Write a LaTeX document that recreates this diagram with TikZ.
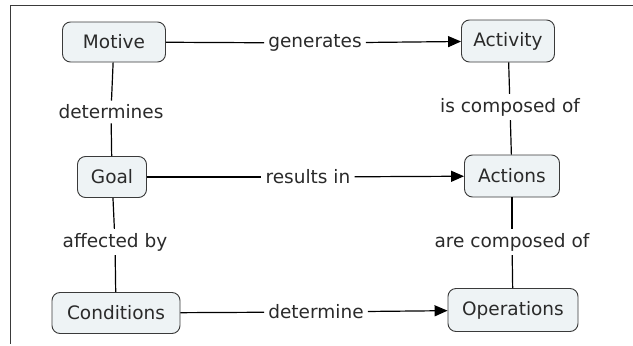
\documentclass[tikz,border=0pt]{standalone}
\usepackage{fontspec}
\setmainfont{DejaVu Sans}
\usetikzlibrary{arrows.meta}
\definecolor{boxfill}{HTML}{EEF3F5}
\definecolor{boxline}{HTML}{3A3A3A}
\definecolor{txt}{HTML}{2A2A2A}
\tikzset{
  concept/.style={draw=boxline, line width=0.9pt, fill=boxfill, rounded corners=8pt,
    inner sep=0pt, text=txt, font=\fontsize{18.5}{20}\selectfont},
  linkword/.style={inner sep=4pt, text=txt, font=\fontsize{18.5}{20}\selectfont},
  link/.style={draw=black, line width=1.2pt},
  linkarrow/.style={link, -{Triangle[length=13pt,width=11pt]}},
}
\begin{document}
\begin{tikzpicture}[x=1pt,y=-1pt]
\useasboundingbox (0,0) rectangle (633,346);
\fill[white] (0,0) rectangle (633,346);
\draw[boxline, line width=1pt] (633,5) -- (10,5) -- (10,344);

\node[concept, minimum width=103pt, minimum height=40pt] (motive) at (114,42) {Motive};
\node[concept, minimum width=93pt, minimum height=42pt] (activity) at (508,41) {Activity};
\node[concept, minimum width=69pt, minimum height=41pt] (goal) at (112,177) {Goal};
\node[concept, minimum width=95pt, minimum height=42pt] (actions) at (512,176) {Actions};
\node[concept, minimum width=128pt, minimum height=41pt] (conditions) at (116,313) {Conditions};
\node[concept, minimum width=130pt, minimum height=43pt] (operations) at (513,310) {Operations};

\node[linkword] (generates) at (315,43) {generates};
\node[linkword] (determines) at (111,112) {determines};
\node[linkword] (iscomp) at (510,107) {is composed of};
\node[linkword] (results) at (308,177) {results in};
\node[linkword] (affected) at (115,242) {affected by};
\node[linkword] (arecomp) at (512,242) {are composed of};
\node[linkword] (determine) at (316,312) {determine};

\draw[link] (motive) -- (generates);
\draw[linkarrow] (generates) -- (activity);
\draw[link] (goal) -- (results);
\draw[linkarrow] (results) -- (actions);
\draw[link] (conditions) -- (determine);
\draw[linkarrow] (determine) -- (operations);

\draw[link] (motive) -- (determines);
\draw[link] (determines) -- (goal);
\draw[link] (goal) -- (affected);
\draw[link] (affected) -- (conditions);
\draw[link] (activity) -- (iscomp);
\draw[link] (iscomp) -- (actions);
\draw[link] (actions) -- (arecomp);
\draw[link] (arecomp) -- (operations);
\end{tikzpicture}
\end{document}
